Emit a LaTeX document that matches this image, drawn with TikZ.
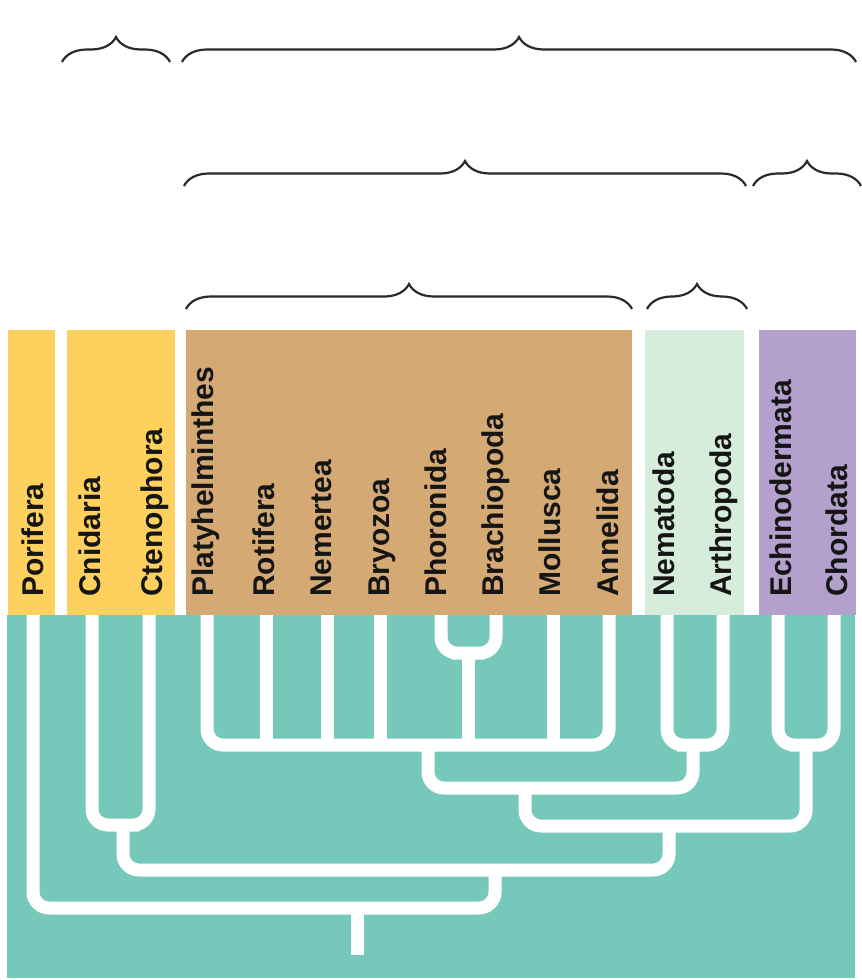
\documentclass[tikz,border=0pt]{standalone}
\usepackage{fontspec}
\setmainfont{Liberation Sans}
\usetikzlibrary{decorations.pathreplacing}
\definecolor{ink}     {HTML}{151515}
\definecolor{braceInk}{HTML}{2A2A2A}
\definecolor{sponge}  {HTML}{FED05E}
\definecolor{lopho}   {HTML}{D4A973}
\definecolor{ecdy}    {HTML}{D5EDDA}
\definecolor{deut}    {HTML}{B4A0CD}
\definecolor{treeBg}  {HTML}{76C8BB}

\begin{document}
\begin{tikzpicture}[
  x=1pt, y=-1pt,
  taxon/.style={rotate=90, anchor=base west, inner sep=0pt,
                font=\fontsize{30}{36}\selectfont\bfseries, text=ink},
  brc/.style={decorate, decoration={brace, amplitude=25pt}, draw=braceInk, line width=2.2pt},
  branch/.style={draw=white, line width=13pt, rounded corners=16pt}
]
\useasboundingbox (0,0) rectangle (862,980);

\fill[sponge] (8,330) rectangle (55,615);
\fill[sponge] (67,330) rectangle (175,615);
\fill[lopho] (186,330) rectangle (632,615);
\fill[ecdy] (645,330) rectangle (744,615);
\fill[deut] (759,330) rectangle (856,615);
\fill[treeBg] (7,615) rectangle (855,978);

\node[taxon] (porL) at (43,597) {Porifera};
\node[taxon] (cniL) at (100,597) {Cnidaria};
\node[taxon] (cteL) at (162,597) {Ctenophora};
\node[taxon] (plaL) at (213,597) {Platyhelminthes};
\node[taxon] (rotL) at (274,597) {Rotifera};
\node[taxon] (nmtL) at (331,597) {Nemertea};
\node[taxon] (bryL) at (389,597) {Bryozoa};
\node[taxon] (phoL) at (446,597) {Phoronida};
\node[taxon] (braL) at (503,597) {Brachiopoda};
\node[taxon] (molL) at (560,597) {Mollusca};
\node[taxon] (annL) at (618,597) {Annelida};
\node[taxon] (nmaL) at (674,597) {Nematoda};
\node[taxon] (artL) at (731,597) {Arthropoda};
\node[taxon] (echL) at (791,597) {Echinodermata};
\node[taxon] (choL) at (847,597) {Chordata};

\draw[brc] (62,62) -- (170,62);
\draw[brc] (182,62) -- (856,62);
\draw[brc] (184,186) -- (746,186);
\draw[brc] (753,186) -- (861,186);
\draw[brc] (186,309) -- (632,309);
\draw[brc] (647,309) -- (747,309);

\coordinate (por) at (33,615);
\coordinate (cni) at (92,615);
\coordinate (cte) at (149,615);
\coordinate (pla) at (207,615);
\coordinate (rot) at (266,615);
\coordinate (nmt) at (327,615);
\coordinate (bry) at (380,615);
\coordinate (pho) at (441,615);
\coordinate (bra) at (496,615);
\coordinate (mol) at (553,615);
\coordinate (ann) at (609,615);
\coordinate (nma) at (667,615);
\coordinate (art) at (723,615);
\coordinate (ech) at (778,615);
\coordinate (cho) at (834,615);

\coordinate (radJ) at (123,825);
\coordinate (phbJ) at (468,653);
\coordinate (lophoJ) at (428,745);
\coordinate (ecdyJ) at (693,745);
\coordinate (deutJ) at (806,745);
\coordinate (protoJ) at (525,788);
\coordinate (bilJ) at (669,826);
\coordinate (eumJ) at (495,870);
\coordinate (rootJ) at (357,908);
\coordinate (base) at (357,955);

\draw[branch] (cni) |- (radJ) -| (cte);
\draw[branch] (pho) |- (phbJ) -| (bra);
\draw[branch] (pla) |- (lophoJ) -| (ann);
\draw[branch] (rot) -- (rot |- lophoJ);
\draw[branch] (nmt) -- (nmt |- lophoJ);
\draw[branch] (bry) -- (bry |- lophoJ);
\draw[branch] (mol) -- (mol |- lophoJ);
\draw[branch] (phbJ) -- (phbJ |- lophoJ);
\draw[branch] (nma) |- (ecdyJ) -| (art);
\draw[branch] (ech) |- (deutJ) -| (cho);
\draw[branch] (lophoJ) |- (protoJ) -| (ecdyJ);
\draw[branch] (protoJ) |- (bilJ) -| (deutJ);
\draw[branch] (radJ) |- (eumJ) -| (bilJ);
\draw[branch] (por) |- (rootJ) -| (eumJ);
\draw[branch] (rootJ) -- (base);
\end{tikzpicture}
\end{document}
